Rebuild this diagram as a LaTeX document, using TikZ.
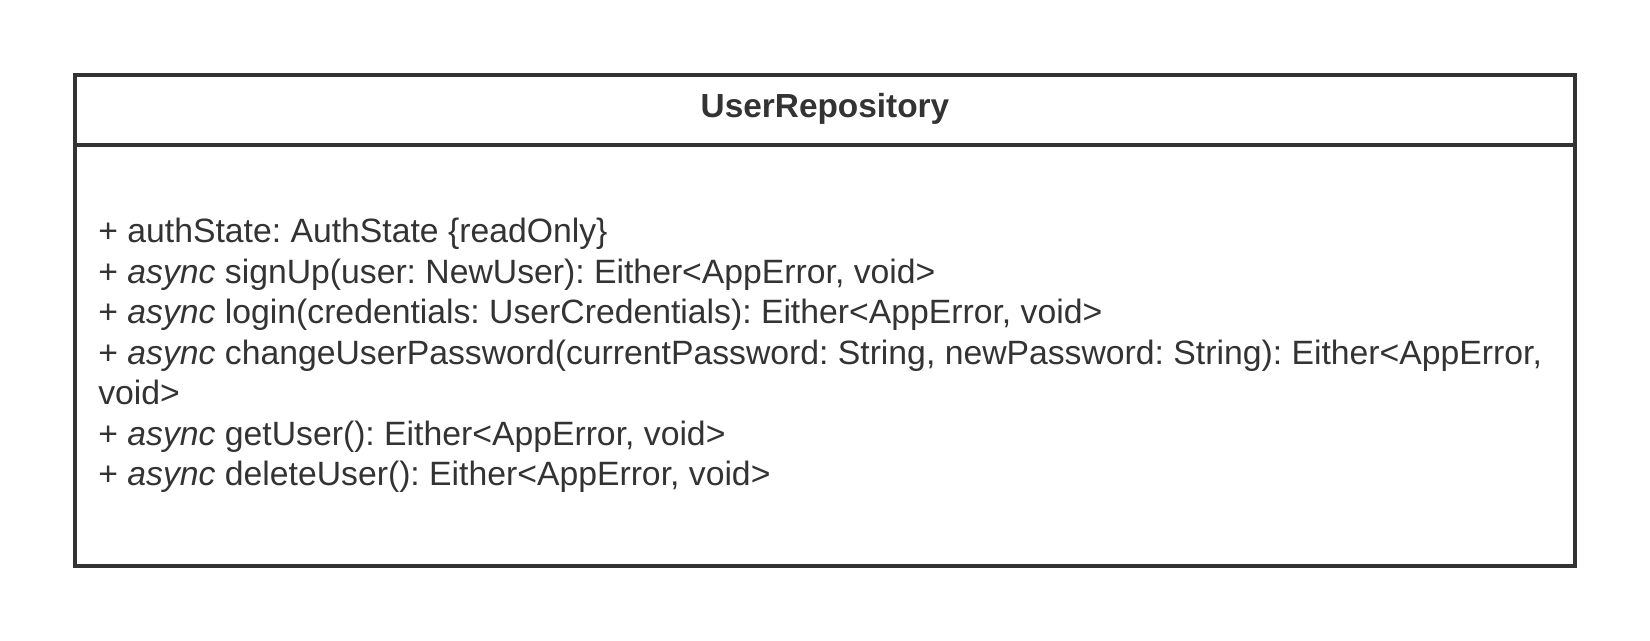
\documentclass[tikz,border=0pt]{standalone}
\usepackage{fontspec}
\setmainfont{Liberation Sans}
\usepackage{xcolor}
\definecolor{umlgrey}{HTML}{333333}
\frenchspacing
\tikzstyle{classbox} = [draw=umlgrey, line width=2.27pt]
\tikzstyle{classname} = [anchor=base, inner sep=0pt, text=umlgrey, font=\fontsize{19}{23}\selectfont\bfseries]
\tikzstyle{member} = [anchor=base west, inner sep=0pt, text=umlgrey, font=\fontsize{19.2}{23}\selectfont]

\begin{document}
\begin{tikzpicture}[x=0.02cm, y=-0.02cm]
	\useasboundingbox (0,0) rectangle (1650,641);
	%Class box
	\draw[classbox] (75,75) rectangle (1575,566);
	\draw[classbox] (75,145) -- (1575,145);
	%Name
	\node[classname] (name) at (825,118) {UserRepository};
	%Attributes
	\node[member] (authstate) at (98,243) {+ authState: AuthState \{readOnly\}};
	%Operations
	\node[member] (signup) at (98,283.5) {+ \textit{async} signUp(user: NewUser): Either<AppError, void>};
	\node[member] (login) at (98,324) {+ \textit{async} login(credentials: UserCredentials): Either<AppError, void>};
	\node[member] (changepw) at (98,364.5) {+ \textit{async} changeUserPassword(currentPassword: String, newPassword: String): Either<AppError,};
	\node[member] (changepwend) at (98,405) {void>};
	\node[member] (getuser) at (98,445.5) {+ \textit{async} getUser(): Either<AppError, void>};
	\node[member] (deleteuser) at (98,486) {+ \textit{async} deleteUser(): Either<AppError, void>};

\end{tikzpicture}
\end{document}
